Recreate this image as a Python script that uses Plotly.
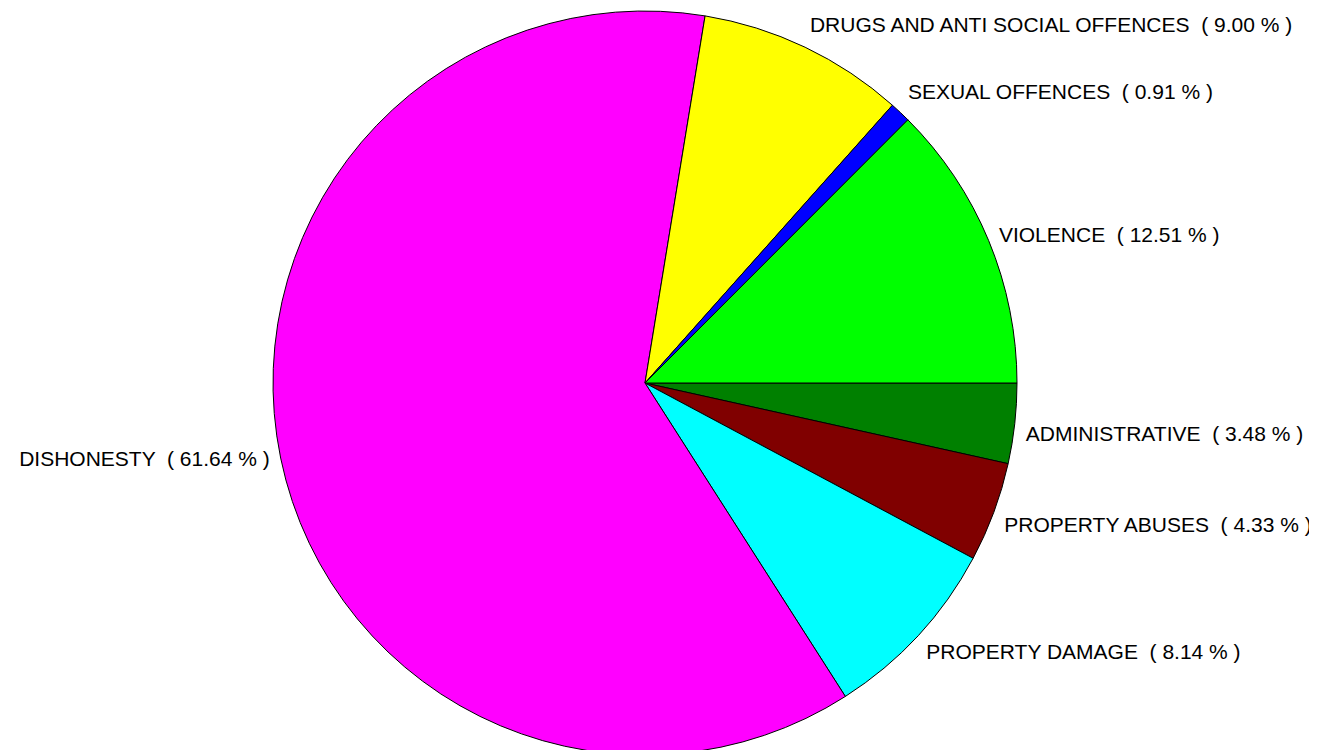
import numpy as np
import plotly.graph_objects as go

labels = ["VIOLENCE", "SEXUAL OFFENCES", "DRUGS AND ANTI SOCIAL OFFENCES", "DISHONESTY",
          "PROPERTY DAMAGE", "PROPERTY ABUSES", "ADMINISTRATIVE"]
values = [12.51, 0.91, 9.00, 61.64, 8.14, 4.33, 3.48]
colors = ["#00FF00", "#0000FF", "#FFFF00", "#FF00FF", "#00FFFF", "#800000", "#008000"]

# ---- layout / style constants (not data) ----
FIG_W, FIG_H = 1317, 750
CX, CY, R = 637, 375, 372          # pie centre (px from left / top) and radius in px
LABEL_R = 1.03                     # label anchor radius, in pie radii
label_pos = ["middle right", "top right", "top right", "middle left",
             "bottom right", "bottom right", "bottom right"]

texts = [f"{l}  ( {v:.2f} % )" for l, v in zip(labels, values)]

vals = np.array(values)
mid_angle = np.deg2rad((np.cumsum(vals) - vals / 2) / vals.sum() * 360.0)
lx = LABEL_R * np.cos(mid_angle)
ly = LABEL_R * np.sin(mid_angle)

fig = go.Figure()
fig.add_trace(go.Pie(
    labels=labels[::-1],
    values=values[::-1],
    sort=False,
    direction="clockwise",
    rotation=90,
    marker=dict(colors=colors[::-1], line=dict(color="black", width=1)),
    textinfo="none",
    showlegend=False,
    hoverinfo="label+percent",
    domain=dict(x=[(CX - R) / FIG_W, (CX + R) / FIG_W],
                y=[(FIG_H - CY - R) / FIG_H, (FIG_H - CY + R) / FIG_H]),
))
fig.add_trace(go.Scatter(
    x=lx, y=ly,
    mode="text",
    text=texts,
    textposition=label_pos,
    textfont=dict(family="Liberation Sans, Arial", size=21, color="black"),
    showlegend=False,
    hoverinfo="skip",
    cliponaxis=False,
))
fig.update_layout(
    width=FIG_W, height=FIG_H,
    margin=dict(l=0, r=0, t=0, b=0),
    paper_bgcolor="white",
    plot_bgcolor="rgba(0,0,0,0)",
    xaxis=dict(visible=False, range=[-CX / R, (FIG_W - CX) / R], fixedrange=True),
    yaxis=dict(visible=False, range=[-(FIG_H - CY) / R, CY / R], fixedrange=True),
)
fig.write_html("out.html")
